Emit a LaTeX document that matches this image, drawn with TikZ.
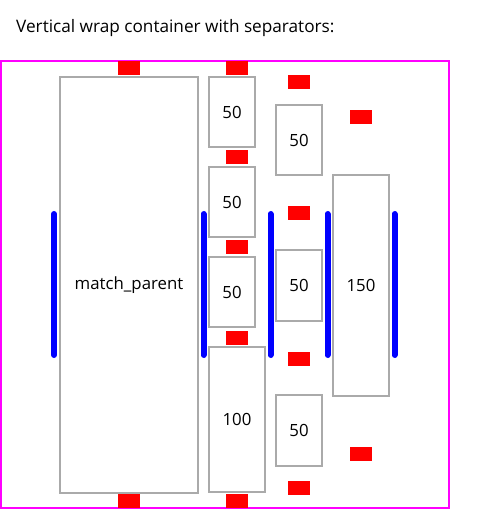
\documentclass[tikz,border=0pt]{standalone}
\usepackage{fontspec}
\setmainfont{Open Sans}
\definecolor{framegray}{HTML}{AAAAAA}
\definecolor{wrapmagenta}{HTML}{FF00FF}
\definecolor{sepred}{HTML}{FF0000}
\definecolor{sepblue}{HTML}{0000FF}
\tikzset{
  itembox/.style={draw=framegray, line width=2pt, fill=white, inner sep=0pt, outer sep=0pt,
    font=\fontsize{16.8}{19}\selectfont},
  hsep/.style={fill=sepred, draw=none, minimum width=22pt, minimum height=14pt, inner sep=0pt, outer sep=0pt},
  vsep/.style={draw=sepblue, line width=6pt, line cap=round},
}
\begin{document}
\begin{tikzpicture}[x=1pt, y=-1pt]
  \useasboundingbox (0,0) rectangle (480,510);
  \fill[white] (0,0) rectangle (480,510);

  % heading
  \node[anchor=base west, inner sep=0pt, font=\fontsize{17.2}{20}\selectfont] (title) at (16,33)
    {Vertical wrap container with separators:};

  % wrap container outline
  \draw[wrapmagenta, line width=2pt] (1,61.5) rectangle (448.5,508);

  % column 1
  \node[itembox, minimum width=138pt, minimum height=416pt] (mp) at (129,285) {match\_parent};

  % column 2
  \node[itembox, minimum width=46pt, minimum height=70pt] (c2a) at (232,112) {50};
  \node[itembox, minimum width=46pt, minimum height=70pt] (c2b) at (232,202) {50};
  \node[itembox, minimum width=46pt, minimum height=70pt] (c2c) at (232,292) {50};
  \node[itembox, minimum width=56pt, minimum height=145pt] (c2d) at (237,419.5) {100};

  % column 3
  \node[itembox, minimum width=46pt, minimum height=70pt] (c3a) at (299,140) {50};
  \node[itembox, minimum width=46pt, minimum height=71pt] (c3b) at (299,285.5) {50};
  \node[itembox, minimum width=46pt, minimum height=71pt] (c3c) at (299,430.5) {50};

  % column 4
  \node[itembox, minimum width=56pt, minimum height=221pt] (c4a) at (361,285.5) {150};

  % horizontal separators (red)
  \node[hsep] (s1a) at (129,68.5) {};
  \node[hsep] (s1b) at (129,501) {};
  \node[hsep] (s2a) at (237,68.5) {};
  \node[hsep] (s2b) at (237,157) {};
  \node[hsep] (s2c) at (237,247) {};
  \node[hsep] (s2d) at (237,337.5) {};
  \node[hsep] (s2e) at (237,501) {};
  \node[hsep] (s3a) at (299,82) {};
  \node[hsep] (s3b) at (299,213.5) {};
  \node[hsep] (s3c) at (299,358.5) {};
  \node[hsep] (s3d) at (299,488) {};
  \node[hsep] (s4a) at (361,117.5) {};
  \node[hsep] (s4b) at (361,453.5) {};

  % vertical separators (blue)
  \foreach \xx in {54,203.5,270.5,327.5,394.5}
    \draw[vsep] (\xx,214) -- (\xx,355);
\end{tikzpicture}
\end{document}
